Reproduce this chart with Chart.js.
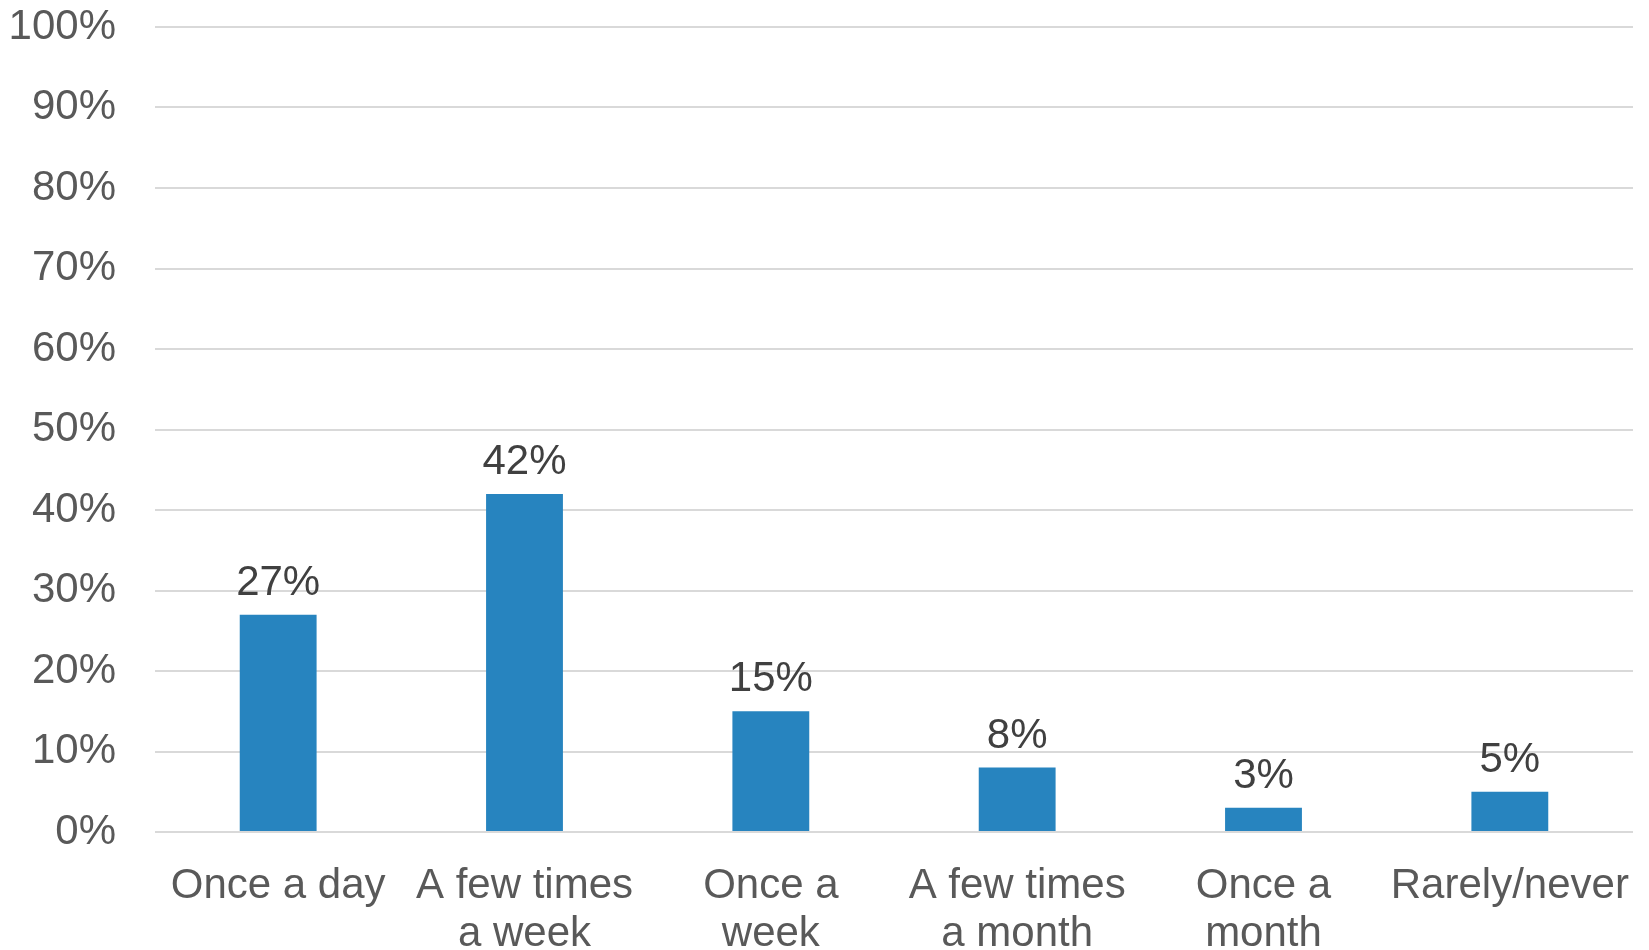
<!DOCTYPE html>
<html>
<head>
<meta charset="utf-8">
<script src="https://cdn.jsdelivr.net/npm/chart.js@4/dist/chart.umd.min.js"></script>
<style>
  html, body { margin: 0; padding: 0; background: #ffffff; }
  #wrap { width: 1649px; height: 950px; position: relative; }
</style>
</head>
<body>
<div id="wrap"><canvas id="c" width="1649" height="950"></canvas></div>
<script>
const categories = [
  ['Once a day'],
  ['A few times', 'a week'],
  ['Once a', 'week'],
  ['A few times', 'a month'],
  ['Once a', 'month'],
  ['Rarely/never']
];
const shares = [27, 42, 15, 8, 3, 5];
const yTicks = [0, 10, 20, 30, 40, 50, 60, 70, 80, 90, 100];

const FONT = '"Liberation Sans", Arial, sans-serif';

const valueLabels = {
  id: 'valueLabels',
  afterDatasetsDraw(chart) {
    const ctx = chart.ctx;
    const meta = chart.getDatasetMeta(0);
    ctx.save();
    ctx.font = '42px ' + FONT;
    ctx.fillStyle = '#404040';
    ctx.textAlign = 'center';
    ctx.textBaseline = 'alphabetic';
    meta.data.forEach((bar, i) => {
      ctx.fillText(shares[i] + '%', bar.x, bar.y - 20);
    });
    ctx.restore();
  }
};

new Chart(document.getElementById('c'), {
  type: 'bar',
  data: {
    labels: categories,
    datasets: [{
      data: shares,
      backgroundColor: '#2784bf',
      borderWidth: 0,
      categoryPercentage: 1.0,
      barPercentage: 0.312
    }]
  },
  options: {
    responsive: false,
    animation: false,
    devicePixelRatio: 1,
    layout: { padding: { top: 27, right: 16, left: 0, bottom: 0 } },
    plugins: {
      legend: { display: false },
      tooltip: { enabled: false }
    },
    scales: {
      x: {
        grid: { display: false, drawTicks: false },
        border: { display: false },
        ticks: {
          color: '#595959',
          font: { family: FONT, size: 42, lineHeight: 1.143 },
          padding: 30,
          maxRotation: 0,
          autoSkip: false
        },
        afterFit(scale) {
          scale.height = 118;
          scale.paddingLeft = 0; scale.paddingRight = 0;
          scale.paddingTop = 0; scale.paddingBottom = 0;
        }
      },
      y: {
        min: 0,
        max: 100,
        afterBuildTicks(scale) { scale.ticks = yTicks.map(v => ({ value: v })); },
        grid: { color: '#d9d9d9', lineWidth: 2, drawTicks: false },
        border: { display: false },
        ticks: {
          color: '#595959',
          font: { family: FONT, size: 42, lineHeight: 1.143 },
          padding: 39,
          callback: v => v + '%'
        },
        afterFit(scale) {
          scale.width = 155;
          scale.paddingTop = 0; scale.paddingBottom = 0;
          scale.paddingLeft = 0; scale.paddingRight = 0;
        }
      }
    }
  },
  plugins: [valueLabels]
});
</script>
</body>
</html>
